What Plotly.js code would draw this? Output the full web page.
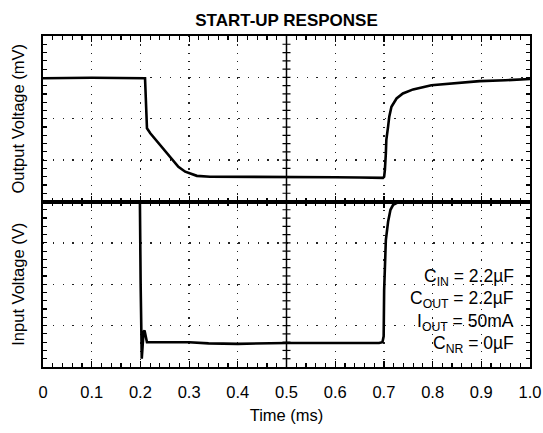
<!DOCTYPE html>
<html>
<head>
<meta charset="utf-8">
<script src="https://cdn.plot.ly/plotly-3.0.1.min.js"></script>
<style>html,body{margin:0;padding:0;background:#fff;}#chart{width:543px;height:433px;}</style>
</head>
<body>
<div id="chart"></div>
<script>
// Time axis (ms)
const xTickVals = [0, 0.1, 0.2, 0.3, 0.4, 0.5, 0.6, 0.7, 0.8, 0.9, 1.0];
const xTickText = ['0', '0.1', '0.2', '0.3', '0.4', '0.5', '0.6', '0.7', '0.8', '0.9', '1.0'];

// Output voltage trace (top panel, in scope divisions 0..4)
const outTime = [0, 0.1, 0.2095, 0.2135, 0.2203, 0.2408, 0.2613, 0.278, 0.292, 0.316, 0.343, 0.4, 0.5, 0.6, 0.65, 0.69, 0.698, 0.7005, 0.702, 0.704, 0.705, 0.7086, 0.711, 0.7155, 0.726, 0.739, 0.76, 0.7975, 0.849, 0.8965, 0.95, 1.0];
const outVolt = [2.98, 2.99, 2.98, 1.77, 1.65, 1.36, 1.08, 0.84, 0.72, 0.62, 0.60, 0.60, 0.60, 0.585, 0.58, 0.575, 0.57, 0.6, 0.76, 1.16, 1.49, 1.81, 2.05, 2.29, 2.49, 2.61, 2.71, 2.81, 2.87, 2.91, 2.93, 2.96];

// Input voltage trace (bottom panel, in scope divisions 0..4)
const inTime = [0, 0.1, 0.199, 0.2005, 0.2015, 0.2008, 0.2018, 0.2028, 0.2045, 0.2065, 0.2085, 0.211, 0.2135, 0.25, 0.3, 0.34, 0.4, 0.5, 0.6, 0.69, 0.697, 0.6995, 0.7005, 0.702, 0.704, 0.7086, 0.7135, 0.719, 0.729, 0.737, 0.8, 0.9, 1.0];
const inVolt = [3.985, 3.985, 3.985, 2.0, 0.9, 0.7, 0.45, 0.2, 0.5, 0.85, 0.88, 0.7, 0.6, 0.6, 0.6, 0.57, 0.56, 0.58, 0.58, 0.58, 0.6, 0.74, 1.86, 2.36, 3.07, 3.51, 3.8, 3.92, 3.98, 3.985, 3.985, 3.985, 3.985];

// Test conditions
const conditions = ['C<sub>IN</sub> = 2.2µF', 'C<sub>OUT</sub> = 2.2µF', 'I<sub>OUT</sub> = 50mA', 'C<sub>NR</sub> = 0µF'];

const FONT = 'Liberation Sans, Arial, Helvetica, sans-serif';

const traces = [
  {x: outTime, y: outVolt, xaxis: 'x2', yaxis: 'y2', mode: 'lines', line: {color: '#000', width: 2.6}, hoverinfo: 'skip', showlegend: false},
  {x: inTime, y: inVolt, xaxis: 'x', yaxis: 'y', mode: 'lines', line: {color: '#000', width: 2.6}, hoverinfo: 'skip', showlegend: false}
];

function xAxis(anchor, labels) {
  return {
    anchor: anchor, domain: [0, 1], range: [0, 1], fixedrange: true,
    tickmode: 'array', tickvals: xTickVals, ticktext: xTickText,
    showticklabels: labels, ticks: 'inside', ticklen: 6, tickwidth: 1.2, tickcolor: '#000',
    tickfont: {family: FONT, size: 16.5, color: '#000'}, ticklabelstandoff: 9,
    minor: {dtick: 0.02, ticks: 'inside', ticklen: 4, tickwidth: 1.2, tickcolor: '#000', showgrid: false},
    showline: true, linewidth: 2, linecolor: '#000', mirror: 'allticks',
    showgrid: true, gridcolor: '#222', gridwidth: 1.3, griddash: '1.3px,6.98px',
    zeroline: false
  };
}
function yAxis(domain, anchor, title) {
  return {
    anchor: anchor, domain: domain, range: [0, 4], fixedrange: true,
    tickmode: 'array', tickvals: [0, 1, 2, 3, 4], showticklabels: false,
    ticks: 'inside', ticklen: 4, tickwidth: 1.2, tickcolor: '#000',
    minor: {dtick: 0.2, ticks: 'inside', ticklen: 4, tickwidth: 1.2, tickcolor: '#000', showgrid: false},
    showline: true, linewidth: 2, linecolor: '#000', mirror: 'allticks',
    showgrid: true, gridcolor: '#222', gridwidth: 1.3, griddash: '1.3px,8.46px',
    zeroline: false,
    title: {text: title, font: {family: FONT, size: 16.5, color: '#000'}, standoff: 12}
  };
}

const shapes = [
  {type: 'line', xref: 'x', yref: 'paper', x0: 0.5, x1: 0.5, y0: 0, y1: 1, line: {color: '#000', width: 1.5}}
];
['y', 'y2'].forEach(function (yr) {
  for (let i = 1; i < 20; i++) {
    const v = i * 0.2;
    shapes.push({type: 'line', xref: 'x', yref: yr, xsizemode: 'pixel', xanchor: 0.5, x0: -4, x1: 4, y0: v, y1: v, line: {color: '#000', width: 1.2}});
  }
});

const condY = [0.27, 0.204, 0.135, 0.068];
const annotations = conditions.map(function (t, i) {
  return {text: t, xref: 'paper', yref: 'paper', x: 0.971, y: condY[i], xanchor: 'right', yanchor: 'middle',
    showarrow: false, align: 'right', font: {family: FONT, size: 17.5, color: '#000'}};
});

const layout = {
  width: 543, height: 433,
  margin: {l: 42.5, r: 13, t: 36, b: 66, pad: 0},
  paper_bgcolor: '#fff', plot_bgcolor: '#fff',
  font: {family: FONT, color: '#000'},
  showlegend: false,
  title: {text: '<b>START-UP RESPONSE</b>', font: {family: FONT, size: 17, color: '#000'},
    x: 0.5, xref: 'paper', xanchor: 'center', y: 1 - 20 / 433, yref: 'container', yanchor: 'middle'},
  xaxis: Object.assign(xAxis('y', true), {title: {text: 'Time (ms)', font: {family: FONT, size: 16.5, color: '#000'}, standoff: 10}}),
  xaxis2: Object.assign(xAxis('y2', false), {matches: 'x'}),
  yaxis: yAxis([0, 0.5], 'x', 'Input Voltage (V)'),
  yaxis2: yAxis([0.5, 1], 'x2', 'Output Voltage (mV)'),
  shapes: shapes,
  annotations: annotations
};

Plotly.newPlot('chart', traces, layout, {staticPlot: true, displayModeBar: false});
</script>
</body>
</html>
